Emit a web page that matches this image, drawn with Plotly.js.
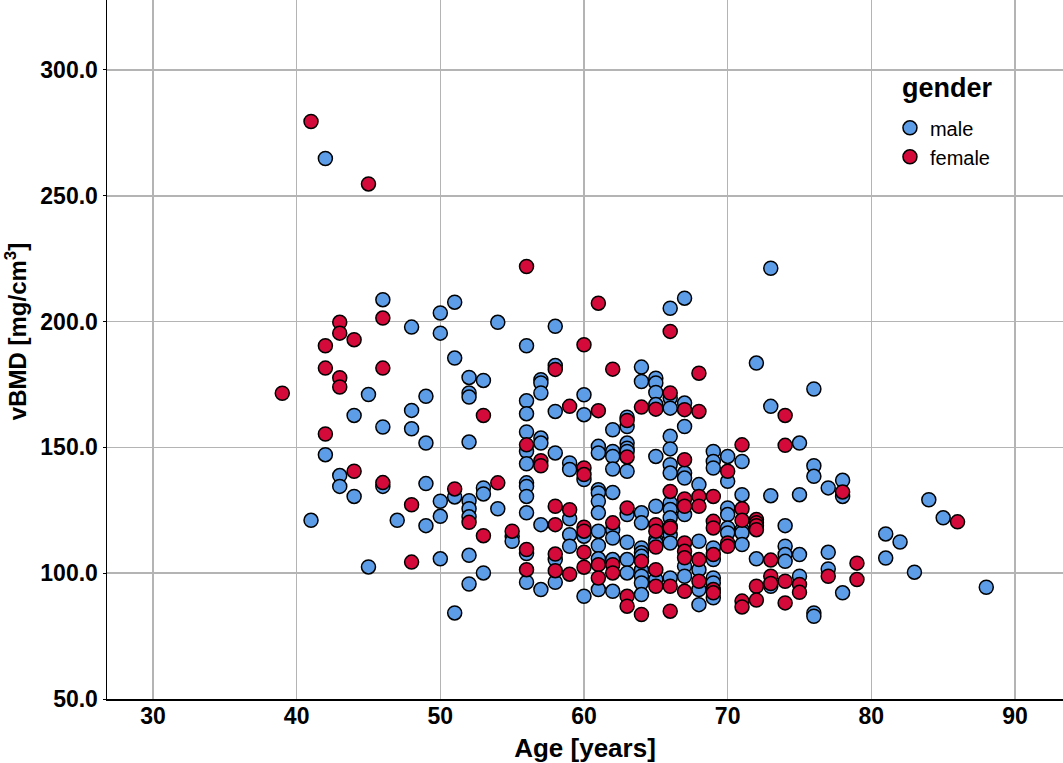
<!DOCTYPE html>
<html>
<head>
<meta charset="utf-8">
<script src="https://cdn.plot.ly/plotly-3.0.1.min.js"></script>
<style>html,body{margin:0;padding:0;background:#fff;}#chart{width:1063px;height:763px;}</style>
</head>
<body>
<div id="chart"></div>
<script>
// Male: [age, vBMD] grouped by age
const maleAge = [
 41,42,42,43,43,44,44,45,45,46,46,46,47,48,48,48,49,49,49,49,
 50,50,50,50,50,51,51,51,51,
 52,52,52,52,52,52,52,52,52,
 53,53,53,53,54,54,55,55,
 56,56,56,56,56,56,56,56,56,56,56,56,
 57,57,57,57,57,57,57,
 58,58,58,58,58,58,
 59,59,59,59,59,
 60,60,60,60,60,
 61,61,61,61,61,61,61,61,61,61,
 62,62,62,62,62,62,62,62,62,
 63,63,63,63,63,63,63,63,63,63,
 64,64,64,64,64,64,64,64,64,64,64,
 65,65,65,65,65,65,65,65,65,
 66,66,66,66,66,66,66,66,66,66,66,66,66,66,
 67,67,67,67,67,67,67,67,
 68,68,68,68,68,
 69,69,69,69,69,69,69,69,
 70,70,70,70,70,70,
 71,71,71,71,71,
 72,72,73,73,73,73,
 74,74,74,74,75,75,75,75,
 76,76,76,76,76,77,77,77,78,78,78,
 81,81,82,83,84,85,88
];
const maleBMD = [
 121,264.8,147.1,138.8,134.5,162.7,130.5,171,102.5,208.7,158.1,134.5,121,197.8,164.7,157.4,170.3,151.7,135.6,118.9,
 203.4,195.4,128.6,122.6,105.7,207.7,185.5,130.3,84.2,
 177.8,171.6,170,152.1,128.8,125.6,122.4,107.1,95.7,
 176.6,133.9,131.5,100.1,199.7,125.6,114.7,112.7,
 190.4,168.5,163.4,156.1,148.4,143.5,135.9,134.5,130.5,124,107.8,96.4,
 176.9,175.6,171.6,153.7,151.7,119.3,93.5,
 198.1,182.5,164.3,147.8,105.4,96.4,
 143.8,141.2,121.6,115.3,110.7,
 170.9,163,137.2,114.7,90.8,
 150.4,147.8,133.2,131.9,128.6,124,116.7,111,105.7,93.5,
 157,148.4,146.4,141.4,132.1,117.3,114,105.4,92.8,
 162,158.3,151.7,149.7,148.4,140.5,123.3,112.3,105.4,100.1,
 181.9,176.2,124,120,110,108.1,106.7,101.4,98.8,96.1,91.5,
 177.5,175.6,171.8,167,146.4,126.6,113.3,112,97.5,
 205.3,169.6,165.6,154.4,149.4,143.1,139.8,127.9,125.3,122,118.6,115.3,112,98.1,
 209.3,167.6,158.3,139.8,137.8,123.3,102.8,98.8,
 135.2,112.7,101.4,93.5,87.5,
 148.4,144.4,141.8,110,105.4,98.1,96.1,90.2,
 146.4,136.5,125.9,123.3,118,116,
 144.4,131.2,117.3,116,111.4,
 183.5,105.7,221.2,166.3,130.8,94.8,
 118.9,110.7,107.4,104.7,151.7,131.2,107.4,98.8,
 173.2,142.7,138.5,84.2,82.9,133.9,108.3,101.7,136.9,130.5,92.2,
 115.6,106,112.4,100.4,129.2,122,94.4
];
const femaleAge = [
 39,41,42,42,42,43,43,43,43,44,44,45,46,46,46,48,48,51,52,53,53,54,55,
 56,56,56,56,57,57,
 58,58,58,58,58,59,59,59,
 60,60,60,60,60,60,60,
 61,61,61,61,62,62,62,62,
 63,63,63,63,63,64,64,64,
 65,65,65,65,65,65,
 66,66,66,66,66,66,
 67,67,67,67,67,67,67,67,
 68,68,68,68,68,68,
 69,69,69,69,69,69,
 70,70,70,71,71,71,71,71,
 72,72,72,72,72,72,73,73,73,
 74,74,74,74,75,75,77,78,79,79,86
];
const femaleBMD = [
 171.5,279.5,190.4,181.5,155.3,199.7,195.4,177.7,174,192.8,140.5,254.7,201.4,181.5,136,127.2,104.4,133.5,120.2,162.7,114.9,135.9,116.7,
 221.9,151,109.4,101.4,144.7,142.7,
 181,126.6,119.3,107.6,101,166.3,125.2,99.6,
 190.8,141.8,139.2,118.3,116.7,108.3,102.4,
 207.3,164.6,103.4,98.1,181.1,120,103.4,100.1,
 160.7,146.2,125.9,90.8,86.9,166,104.7,83.6,
 165.2,119.3,116.7,110.4,101.4,94.8,
 196.1,171.6,132.5,118,94.8,84.9,
 165,145.1,129.5,126.6,112,108.7,106.1,92.8,
 179.5,164.3,130.5,126.6,105.4,96.8,
 130.5,120.6,118,107.4,93.5,92.2,
 140.5,112,110.7,151,125.6,121,88.9,86.6,
 121.3,120,118.9,117.3,94.8,89.3,105.2,98.8,95.9,
 162.7,150.8,96.8,88.2,95.5,92.4,98.8,132.3,104,97.5,120.4
];
const xTicks = [30,40,50,60,70,80,90];
const yTicks = [50,100,150,200,250,300];
const legendTitle = 'gender';
const xTitle = 'Age [years]';
const yTitle = 'vBMD [mg/cm<sup>3</sup>]';

const FONT = 'Liberation Sans, Arial, Helvetica, sans-serif';
const markerLine = {color:'#000000', width:1.5};

const traces = [
 {type:'scatter', mode:'markers', name:'male', x:maleAge, y:maleBMD,
  marker:{size:14, color:'#5d9de8', line:markerLine}},
 {type:'scatter', mode:'markers', name:'female', x:femaleAge, y:femaleBMD,
  marker:{size:14, color:'#d30a3a', line:markerLine}}
];

const layout = {
 width:1063, height:763,
 margin:{l:107, r:0, t:0, b:64, pad:0},
 paper_bgcolor:'#ffffff', plot_bgcolor:'#ffffff',
 font:{family:FONT, color:'#000000'},
 showlegend:true,
 legend:{
  x:0.819, y:0.845, xanchor:'left', yanchor:'top',
  bgcolor:'rgba(255,255,255,0)', borderwidth:0,
  font:{size:20, family:FONT}, itemsizing:'trace', tracegroupgap:2
 },
 annotations:[
  {text:legendTitle, xref:'paper', yref:'paper', x:0.879, y:0.874,
   xanchor:'center', yanchor:'middle', showarrow:false,
   font:{size:27, weight:'bold', family:FONT, color:'#000000'}},
  {text:yTitle, xref:'paper', yref:'paper', x:-0.095, y:0.525, textangle:-90,
   xanchor:'center', yanchor:'middle', showarrow:false,
   font:{size:24, weight:'bold', family:FONT, color:'#000000'}}
 ],
 xaxis:{
  range:[26.8, 93.34], tickvals:xTicks, ticktext:xTicks.map(String),
  showgrid:true, gridcolor:'#b4b4b4', gridwidth:1.5,
  showline:true, linecolor:'#000000', linewidth:1.5,
  ticks:'', ticklabelstandoff:-4,
  tickfont:{size:23, weight:'bold', family:FONT},
  zeroline:false, mirror:false,
  title:{text:xTitle, font:{size:26, weight:'bold', family:FONT}, standoff:10}
 },
 yaxis:{
  range:[50, 327.8], tickvals:yTicks, ticktext:yTicks.map(v=>v.toFixed(1)),
  showgrid:true, gridcolor:'#b4b4b4', gridwidth:1.5,
  showline:true, linecolor:'#000000', linewidth:1.5,
  ticks:'outside', ticklen:3, tickcolor:'#000000', tickwidth:1,
  tickfont:{size:23, weight:'bold', family:FONT},
  zeroline:false, mirror:false
 }
};

Plotly.newPlot('chart', traces, layout, {staticPlot:true, displayModeBar:false});
</script>
</body>
</html>
